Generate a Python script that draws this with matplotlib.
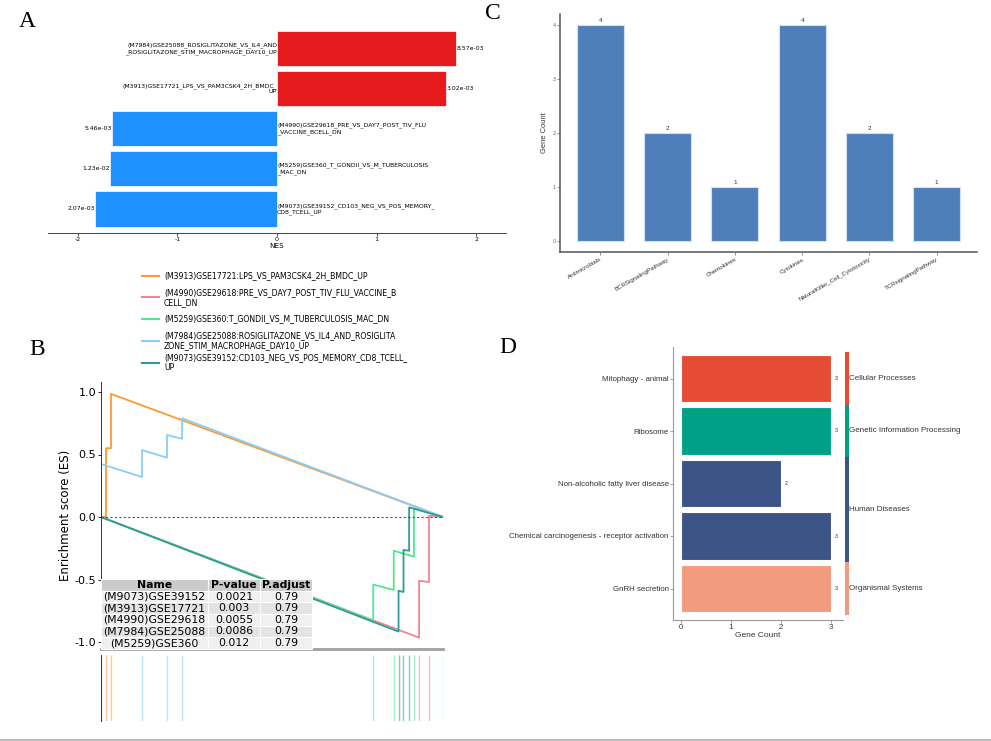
import numpy as np
import matplotlib
matplotlib.use("Agg")
import matplotlib.pyplot as plt
from matplotlib.lines import Line2D
import matplotlib.transforms as mtransforms

plt.rcParams['axes.unicode_minus'] = False

W, H = 991, 741

# ---- panel A data (NES barplot)
a_names = ["(M7984)GSE25088_ROSIGLITAZONE_VS_IL4_AND\n_ROSIGLITAZONE_STIM_MACROPHAGE_DAY10_UP",
           "(M3913)GSE17721_LPS_VS_PAM3CSK4_2H_BMDC_\nUP",
           "(M4990)GSE29618_PRE_VS_DAY7_POST_TIV_FLU\n_VACCINE_BCELL_DN",
           "(M5259)GSE360_T_GONDII_VS_M_TUBERCULOSIS\n_MAC_DN",
           "(M9073)GSE39152_CD103_NEG_VS_POS_MEMORY_\nCD8_TCELL_UP"]
a_nes = [1.80, 1.70, -1.66, -1.68, -1.83]
a_pval = ["8.57e-03", "3.02e-03", "5.46e-03", "1.23e-02", "2.07e-03"]

# ---- panel B data (GSEA running scores)
b_labels = ["(M3913)GSE17721:LPS_VS_PAM3CSK4_2H_BMDC_UP",
            "(M4990)GSE29618:PRE_VS_DAY7_POST_TIV_FLU_VACCINE_B\nCELL_DN",
            "(M5259)GSE360:T_GONDII_VS_M_TUBERCULOSIS_MAC_DN",
            "(M7984)GSE25088:ROSIGLITAZONE_VS_IL4_AND_ROSIGLITA\nZONE_STIM_MACROPHAGE_DAY10_UP",
            "(M9073)GSE39152:CD103_NEG_VS_POS_MEMORY_CD8_TCELL_\nUP"]
b_colors = ["#FF9933", "#F08596", "#50E890", "#87CEFA", "#2E9C96"]
es_m3913_x = [0, 14.6, 14.6, 29.2, 29.2, 1000]
es_m3913_y = [0, 0, 0.55, 0.55, 0.985, 0]
es_m4990_x = [0, 930, 930, 959, 959, 1000]
es_m4990_y = [0, -0.965, -0.51, -0.52, 0.01, 0]
es_m5259_x = [0, 796, 796, 856, 856, 915, 915, 1000]
es_m5259_y = [0, -0.83, -0.54, -0.584, -0.27, -0.317, 0.07, 0]
es_m7984_x = [0, 0, 120, 120, 193, 193, 237, 237, 1000]
es_m7984_y = [0, 0.424, 0.32, 0.536, 0.474, 0.656, 0.626, 0.79, 0]
es_m9073_x = [0, 870, 870, 884.5, 884.5, 901, 901, 1000]
es_m9073_y = [0, -0.917, -0.59, -0.60, -0.264, -0.27, 0.077, 0]
hits_m3913 = [14.6, 29.2]
hits_m4990 = [930, 959]
hits_m5259 = [796, 856, 915, 1000]
hits_m7984 = [0, 120, 193, 237]
hits_m9073 = [870, 884.5, 901]

tab_names = ["(M9073)GSE39152", "(M3913)GSE17721", "(M4990)GSE29618", "(M7984)GSE25088", "(M5259)GSE360"]
tab_pval = ["0.0021", "0.003", "0.0055", "0.0086", "0.012"]
tab_padj = ["0.79", "0.79", "0.79", "0.79", "0.79"]

# ---- panel C data
c_cats = ["Antimicrobials", "BCRSignalingPathway", "Chemokines", "Cytokines",
          "NaturalKiller_Cell_Cytotoxicity", "TCRsignalingPathway"]
c_counts = [4, 2, 1, 4, 2, 1]

# ---- panel D data (KEGG)
d_terms = ["Mitophagy - animal", "Ribosome", "Non-alcoholic fatty liver disease",
           "Chemical carcinogenesis - receptor activation", "GnRH secretion"]
d_counts = [3, 3, 2, 3, 3]
d_class = ["Cellular Processes", "Genetic Information Processing", "Human Diseases",
           "Human Diseases", "Organismal Systems"]
d_class_colors = {"Cellular Processes": "#E64B35", "Genetic Information Processing": "#00A087",
                  "Human Diseases": "#3C5488", "Organismal Systems": "#F39B7F"}

fig = plt.figure(figsize=(W / 100, H / 100), dpi=100)


def px_axes(l, t, r, b):
    return fig.add_axes([l / W, 1 - b / H, (r - l) / W, (b - t) / H])


# ================= A
axA = px_axes(48, 24.5, 506, 233)
ypos = np.arange(len(a_nes))[::-1]
cols = ["#E41A1C" if v > 0 else "#1E90FF" for v in a_nes]
axA.barh(ypos, a_nes, height=0.88, color=cols, edgecolor="white", linewidth=0.5)
for y, v, nm, p in zip(ypos, a_nes, a_names, a_pval):
    if v > 0:
        axA.text(0, y, nm, ha="right", va="center", fontsize=4.45, multialignment="right")
        axA.text(v, y, p, ha="left", va="center", fontsize=4.45)
    else:
        axA.text(0, y, nm, ha="left", va="center", fontsize=4.45)
        axA.text(v, y, p, ha="right", va="center", fontsize=4.45)
axA.set_xlim(-2.3, 2.3)
axA.set_ylim(-0.6, 4.6)
axA.set_yticks([])
axA.set_xticks([-2, -1, 0, 1, 2])
axA.tick_params(axis="x", labelsize=4.6, length=2, width=0.5, pad=1)
axA.set_xlabel("NES", fontsize=5.2, labelpad=0.5)
for s in ["left", "top", "right"]:
    axA.spines[s].set_visible(False)
axA.spines["bottom"].set_color("#444444")
axA.spines["bottom"].set_linewidth(0.7)

# ================= B legend
axL = px_axes(100, 262, 480, 372)
axL.set_xlim(100, 480)
axL.set_ylim(372, 262)
axL.axis("off")
for i, (lab, c) in enumerate(zip(b_labels, b_colors)):
    yc = 275.7 + i * 21.7
    axL.add_line(Line2D([142, 159], [yc, yc], color=c, lw=1.5))
    axL.text(164, yc, lab, va="center", ha="left", fontsize=5.6, linespacing=1.1)

# ================= B running score
axB = px_axes(101, 382, 443, 649)
series = [(es_m3913_x, es_m3913_y), (es_m4990_x, es_m4990_y), (es_m5259_x, es_m5259_y),
          (es_m7984_x, es_m7984_y), (es_m9073_x, es_m9073_y)]
for (xs, ys), c in zip(series, b_colors):
    axB.plot(xs, ys, color=c, lw=1.3)
axB.axhline(0, color="#555555", lw=0.8, ls=(0, (2, 2)))
axB.set_xlim(0, 1000)
axB.set_ylim(-1.056, 1.08)
axB.set_xticks([])
axB.set_yticks([-1, -0.5, 0, 0.5, 1])
axB.set_yticklabels(["-1.0", "-0.5", "0.0", "0.5", "1.0"])
axB.tick_params(axis="y", labelsize=8, length=2, width=0.6, pad=1.5)
axB.set_ylabel("Enrichment score (ES)", fontsize=8.5, labelpad=2)
for s in ["top", "right"]:
    axB.spines[s].set_visible(False)
axB.spines["left"].set_color("#333333")
axB.spines["left"].set_linewidth(0.7)
axB.spines["bottom"].set_color("#A0A0A0")
axB.spines["bottom"].set_linewidth(2)

cell_text = [[n, p, a] for n, p, a in zip(tab_names, tab_pval, tab_padj)]
tbl = axB.table(cellText=cell_text, colLabels=["Name", "P-value", "P.adjust"],
                cellLoc="center", colWidths=[107, 52, 52],
                bbox=[0, 0, 211 / 342, 70 / 267])
tbl.auto_set_font_size(False)
tbl.set_fontsize(7.8)
tbl.set_zorder(5)
for (r, c), cell in tbl.get_celld().items():
    cell.set_edgecolor("white")
    cell.set_linewidth(0.8)
    cell.PAD = 0.02
    if r == 0:
        cell.set_facecolor("#CBCBCB")
        cell.get_text().set_fontweight("bold")
    else:
        cell.set_facecolor("#F0F0F0" if r % 2 == 1 else "#E3E3E3")

# ================= B rug
axR = px_axes(101, 655, 443, 721)
hits = [hits_m3913, hits_m4990, hits_m5259, hits_m7984, hits_m9073]
for h, c in zip(hits, b_colors):
    axR.vlines(h, 0, 1, color=c, lw=1, alpha=0.55)
axR.set_xlim(0, 1000)
axR.set_ylim(0, 1)
axR.set_xticks([])
axR.set_yticks([])
for s in ["top", "right", "bottom"]:
    axR.spines[s].set_visible(False)
axR.spines["left"].set_color("#333333")
axR.spines["left"].set_linewidth(0.7)

# ================= C
axC = px_axes(560, 14, 977, 252)
xc = np.arange(len(c_cats))
axC.bar(xc, c_counts, width=0.7, color="#4F7FBB", edgecolor="#CFE0F3", linewidth=0.8)
for x, v in zip(xc, c_counts):
    axC.text(x, v + 0.04, str(v), ha="center", va="bottom", fontsize=4.6,
             family="Liberation Sans", color="#333333")
axC.set_xlim(-0.6, 5.6)
axC.set_ylim(-0.2, 4.2)
axC.set_yticks([0, 1, 2, 3, 4])
axC.set_xticks(xc)
axC.set_xticklabels(c_cats, rotation=30, ha="right", rotation_mode="anchor",
                    fontsize=4.4, family="Liberation Sans", color="#333333")
axC.tick_params(axis="y", labelsize=3.6, length=2, width=0.5, colors="#666666", pad=1)
axC.tick_params(axis="x", length=2, width=0.5, colors="#666666", pad=1.5)
for t in axC.get_xticklabels():
    t.set_color("#333333")
axC.set_ylabel("Gene Count", fontsize=5.4, family="Liberation Sans", color="#333333", labelpad=3)
for s in ["top", "right"]:
    axC.spines[s].set_visible(False)
for s in ["left", "bottom"]:
    axC.spines[s].set_color("#555555")
    axC.spines[s].set_linewidth(1.1)

# ================= D
axD = px_axes(673, 347, 843, 620)
yd = np.arange(len(d_terms))[::-1]
dcols = [d_class_colors[k] for k in d_class]
axD.barh(yd, d_counts, height=0.9, color=dcols, edgecolor="white", linewidth=0.8)
for y, v in zip(yd, d_counts):
    axD.text(v + 0.07, y, str(v), ha="left", va="center", fontsize=3.8,
             family="Liberation Sans", color="#333333")
axD.set_xlim(-0.16, 3.24)
axD.set_ylim(-0.6, 4.6)
axD.set_yticks(yd)
axD.set_yticklabels(d_terms, fontsize=5.7, family="Liberation Sans", color="#333333")
axD.set_xticks([0, 1, 2, 3])
axD.set_xticklabels(["0", "1", "2", "3"], fontsize=5.7, family="Liberation Sans", color="#333333")
axD.tick_params(axis="both", length=2, width=0.5, colors="#777777", pad=1)
for t in axD.get_xticklabels() + axD.get_yticklabels():
    t.set_color("#333333")
axD.set_xlabel("Gene Count", fontsize=6, family="Liberation Sans", color="#333333", labelpad=0.5)
for s in ["top", "right"]:
    axD.spines[s].set_visible(False)
for s in ["left", "bottom"]:
    axD.spines[s].set_color("#999999")
    axD.spines[s].set_linewidth(0.8)

# class strip
axS = px_axes(845, 347, 849, 620)
axS.set_xlim(0, 1)
axS.set_ylim(-0.6, 4.6)
axS.axis("off")
trans = mtransforms.blended_transform_factory(axS.transAxes, axS.transData)
for k in dict.fromkeys(d_class):
    ys = [y for y, c in zip(yd, d_class) if c == k]
    lo = max(min(ys) - 0.5, -0.6)
    hi = min(max(ys) + 0.5, 4.6)
    axS.bar(0.5, hi - lo, bottom=lo, width=1, color=d_class_colors[k], linewidth=0)
    axS.text(1.0, (lo + hi) / 2, k, transform=trans, ha="left", va="center",
             fontsize=5.75, family="Liberation Sans", color="#333333")

# panel letters
for lab, x, y in [("A", 19, 27), ("B", 29, 355), ("C", 485, 19), ("D", 499, 353)]:
    fig.text(x / W, 1 - y / H, lab, family="Liberation Serif", fontsize=17, va="baseline")

fig.add_artist(Line2D([0, 1], [1 - 739.5 / H, 1 - 739.5 / H], transform=fig.transFigure,
                      color="#BDBDBD", lw=1.5))

fig.savefig("out.png", dpi=100)
